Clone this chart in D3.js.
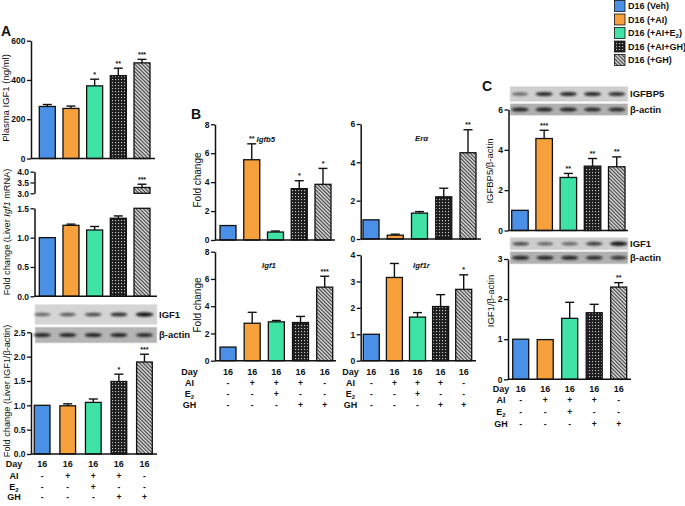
<!DOCTYPE html>
<html><head><meta charset="utf-8">
<script src="https://cdn.jsdelivr.net/npm/d3@7/dist/d3.min.js"></script>
<style>
body{margin:0;background:#fff}
svg{display:block}
text{font-family:'Liberation Sans',Arial,Helvetica,sans-serif;fill:#111}
</style>
</head><body>
<svg id="c" width="685" height="506"></svg>
<script>
// ---------------- DATA ----------------
const groups = ["D16 (Veh)", "D16 (+AI)", "D16 (+AI+E2)", "D16 (+AI+GH)", "D16 (+GH)"];
const legendLabels = [["D16 (Veh)"], ["D16 (+AI)"], ["D16 (+AI+E", "2", ")"], ["D16 (+AI+GH)"], ["D16 (+GH)"]];

// Panel A
const plasmaIGF1 = [265, 255, 370, 422, 487];
const plasmaIGF1Err = [10, 12, 34, 38, 18];
const plasmaIGF1Stars = ["", "", "*", "**", "***"];
const plasmaTicks = [0, 200, 400, 600];

const liverIgf1mRNA = [1.0, 1.21, 1.13, 1.33, 3.27];
const liverIgf1mRNAErr = [0, 0.02, 0.06, 0.04, 0.15];
const liverIgf1mRNAStars = ["", "", "", "", "***"];
const liverLowTicks = [0, 0.5, 1.0, 1.5];
const liverHighTicks = [3.0, 3.5, 4.0];

const liverIGF1Prot = [1.0, 0.99, 1.06, 1.49, 1.89];
const liverIGF1ProtErr = [0, 0.04, 0.07, 0.15, 0.16];
const liverIGF1ProtStars = ["", "", "", "*", "***"];
const liverProtTicks = [0, 0.5, 1.0, 1.5, 2.0, 2.5];

// Panel B
const igfbp5mRNA = [1.0, 5.55, 0.55, 3.55, 3.85];
const igfbp5mRNAErr = [0, 1.1, 0.07, 0.55, 1.1];
const igfbp5mRNAStars = ["", "**", "", "*", "*"];
const eraMRNA = [1.0, 0.2, 1.35, 2.2, 4.5];
const eraMRNAErr = [0, 0.05, 0.08, 0.45, 1.2];
const eraMRNAStars = ["", "", "", "", "**"];
const igf1mRNA = [1.0, 2.75, 2.85, 2.8, 5.4];
const igf1mRNAErr = [0, 0.8, 0.1, 0.45, 0.8];
const igf1mRNAStars = ["", "", "", "", "***"];
const igf1rMRNA = [1.0, 3.15, 1.65, 2.05, 2.7];
const igf1rMRNAErr = [0, 0.53, 0.17, 0.45, 0.55];
const igf1rMRNAStars = ["", "", "", "", "*"];

// Panel C
const igfbp5Prot = [1.0, 4.56, 2.63, 3.19, 3.16];
const igfbp5ProtErr = [0, 0.41, 0.2, 0.38, 0.49];
const igfbp5ProtStars = ["", "***", "**", "**", "**"];
const igf1Prot = [1.0, 0.99, 1.52, 1.66, 2.3];
const igf1ProtErr = [0, 0, 0.4, 0.21, 0.11];
const igf1ProtStars = ["", "", "", "", "**"];

// treatment table
const dayRow = ["16", "16", "16", "16", "16"];
const aiRow = ["-", "+", "+", "+", "-"];
const e2Row = ["-", "-", "+", "-", "-"];
const ghRow = ["-", "-", "-", "+", "+"];

// western blot band intensities (0..1)
const blotA_IGF1 = [0.55, 0.6, 0.7, 0.8, 0.95];
const blotA_actin = [0.85, 0.85, 0.85, 0.85, 0.8];
const blotC_IGFBP5 = [0.55, 0.85, 0.85, 0.85, 0.8];
const blotC_actin1 = [0.85, 0.85, 0.85, 0.8, 0.8];
const blotC_IGF1 = [0.7, 0.55, 0.55, 0.75, 0.95];
const blotC_actin2 = [0.85, 0.85, 0.85, 0.8, 0.75];

// ---------------- SETUP ----------------
const svg = d3.select("#c");
const defs = svg.append("defs");
const pDot = defs.append("pattern").attr("id", "pDot").attr("width", 3).attr("height", 3)
  .attr("patternUnits", "userSpaceOnUse");
pDot.append("rect").attr("width", 3).attr("height", 3).attr("fill", "#1e1e1e");
pDot.append("rect").attr("x", 1).attr("y", 1).attr("width", 1.1).attr("height", 1.1).attr("fill", "#c8c8c8");
const pHatch = defs.append("pattern").attr("id", "pHatch").attr("width", 2.6).attr("height", 2.6)
  .attr("patternUnits", "userSpaceOnUse").attr("patternTransform", "rotate(-45)");
pHatch.append("rect").attr("width", 2.6).attr("height", 2.6).attr("fill", "#dcdcdc");
pHatch.append("rect").attr("width", 1.1).attr("height", 2.6).attr("fill", "#3a3a3a");
const fl = defs.append("filter").attr("id", "blur").attr("x", "-50%").attr("y", "-200%").attr("width", "200%").attr("height", "500%");
fl.append("feGaussianBlur").attr("stdDeviation", 0.9);

const color = d3.scaleOrdinal().domain(groups)
  .range(["#4a90e6", "#f7a13c", "#3fe3a6", "url(#pDot)", "url(#pHatch)"]);

function bandX(x0, x1, w) {
  const step = (x1 - x0 - w) / (groups.length - 1);
  const gap = step - w;
  return d3.scaleBand().domain(groups).range([x0 - gap / 2, x1 + gap / 2])
    .paddingInner(gap / step).paddingOuter(gap / step / 2);
}

function yAxis(g, y, ax, ticks, fmt) {
  const a = g.append("g").attr("transform", `translate(${ax},0)`)
    .call(d3.axisLeft(y).tickValues(ticks).tickFormat(fmt).tickSize(4).tickSizeOuter(0).tickPadding(1.5));
  a.select(".domain").attr("stroke", "#111").attr("stroke-width", 1.5);
  a.selectAll(".tick line").attr("stroke", "#111").attr("stroke-width", 1.3);
  a.selectAll(".tick text").attr("font-size", 8.5).attr("font-weight", "bold")
    .attr("font-family", "'Liberation Sans',Arial,sans-serif").attr("fill", "#111");
  return a;
}

function bars(g, x, y, vals, errs, stars, opts = {}) {
  const top = opts.top !== undefined ? opts.top : Infinity;
  g.selectAll(null).data(groups).join("rect")
    .attr("x", d => x(d)).attr("width", x.bandwidth())
    .attr("y", (d, i) => y(Math.min(vals[i], top)))
    .attr("height", (d, i) => y(0) - y(Math.min(vals[i], top)))
    .attr("fill", d => color(d)).attr("stroke", "#111").attr("stroke-width", 1.3);
  groups.forEach((d, i) => {
    if (vals[i] > top) return; // drawn on the broken upper segment
    const cx = x(d) + x.bandwidth() / 2;
    if (errs[i] > 0) {
      g.append("line").attr("x1", cx).attr("x2", cx).attr("y1", y(vals[i])).attr("y2", y(vals[i] + errs[i]))
        .attr("stroke", "#111").attr("stroke-width", 1.4);
      g.append("line").attr("x1", cx - 4.5).attr("x2", cx + 4.5).attr("y1", y(vals[i] + errs[i])).attr("y2", y(vals[i] + errs[i]))
        .attr("stroke", "#111").attr("stroke-width", 1.4);
    }
    if (stars[i]) {
      g.append("text").attr("x", cx).attr("y", y(vals[i] + errs[i]) - 2.5).attr("text-anchor", "middle")
        .attr("font-size", 7).attr("font-weight", "bold").text(stars[i]);
    }
  });
}

function baseline(g, x1, x2, yv) {
  g.append("line").attr("x1", x1).attr("x2", x2).attr("y1", yv).attr("y2", yv)
    .attr("stroke", "#111").attr("stroke-width", 1.5);
}

function ylabel(g, x, y, parts, size) {
  const t = g.append("text").attr("transform", `translate(${x},${y}) rotate(-90)`)
    .attr("text-anchor", "middle").attr("font-size", size);
  parts.forEach(p => {
    const s = t.append("tspan").text(p[0]);
    if (p[1]) s.attr("font-style", "italic");
  });
}

function table(g, x, rowYs, labelX) {
  const rows = [["Day", dayRow], ["AI", aiRow], ["E", e2Row], ["GH", ghRow]];
  rows.forEach((r, k) => {
    const t = g.append("text").attr("x", labelX).attr("y", rowYs[k] + 3.2).attr("text-anchor", "middle")
      .attr("font-size", 9).attr("font-weight", "bold").text(r[0]);
    if (k === 2) t.append("tspan").attr("font-size", 6).attr("dy", 2).text("2");
    g.selectAll(null).data(groups).join("text")
      .attr("x", d => x(d) + x.bandwidth() / 2).attr("y", rowYs[k] + 3.2)
      .attr("text-anchor", "middle").attr("font-size", k === 0 ? 9 : 8.5).attr("font-weight", "bold")
      .text((d, i) => r[1][i]);
  });
}

function blot(g, x, x0, x1, y0, h, fill, intens, label) {
  g.append("rect").attr("x", x0).attr("y", y0).attr("width", x1 - x0).attr("height", h)
    .attr("fill", fill).attr("stroke", "#e6e6e6").attr("stroke-width", 0.8);
  g.selectAll(null).data(groups).join("ellipse")
    .attr("cx", d => x(d) + x.bandwidth() / 2).attr("cy", y0 + h / 2)
    .attr("rx", (d, i) => 7 + 2 * intens[i]).attr("ry", (d, i) => 1 + 1.2 * intens[i])
    .attr("fill", "#111").attr("opacity", (d, i) => intens[i]).attr("filter", "url(#blur)");
  g.append("text").attr("x", x1 + 2).attr("y", y0 + h / 2 + 3.3).attr("font-size", 9.5)
    .attr("font-weight", "bold").text(label);
}

const G = svg.append("g");

// ---------------- PANEL A ----------------
G.append("text").attr("x", 1).attr("y", 36).attr("font-size", 14).attr("font-weight", "bold").text("A");
{
  const x = bandX(39.3, 150, 16);
  const y = d3.scaleLinear().domain([0, 600]).range([158.5, 40.7]);
  bars(G, x, y, plasmaIGF1, plasmaIGF1Err, plasmaIGF1Stars);
  yAxis(G, y, 31, plasmaTicks, d3.format("d"));
  baseline(G, 31, 155, y(0));
  ylabel(G, 9, 98, [["Plasma IGF1 (ng/ml)"]], 9.5);
}
{
  const x = bandX(39.3, 150, 16);
  const yLo = d3.scaleLinear().domain([0, 1.5]).range([296.3, 208.3]);
  const yHi = d3.scaleLinear().domain([3, 4]).range([193.3, 171.7]);
  bars(G, x, yLo, liverIgf1mRNA, liverIgf1mRNAErr, liverIgf1mRNAStars, { top: 1.5 });
  // upper broken segment: values above the break
  liverIgf1mRNA.forEach((v, i) => {
    if (v <= 3) return;
    const d = groups[i];
    G.append("rect").attr("x", x(d)).attr("width", x.bandwidth())
      .attr("y", yHi(v)).attr("height", yHi(3) - yHi(v))
      .attr("fill", color(d)).attr("stroke", "#111").attr("stroke-width", 1.3);
    const cx = x(d) + x.bandwidth() / 2;
    const e = v + liverIgf1mRNAErr[i];
    G.append("line").attr("x1", cx).attr("x2", cx).attr("y1", yHi(v)).attr("y2", yHi(e)).attr("stroke", "#111").attr("stroke-width", 1.4);
    G.append("line").attr("x1", cx - 4.5).attr("x2", cx + 4.5).attr("y1", yHi(e)).attr("y2", yHi(e)).attr("stroke", "#111").attr("stroke-width", 1.4);
    G.append("text").attr("x", cx).attr("y", yHi(e) - 2.5).attr("text-anchor", "middle").attr("font-size", 7).attr("font-weight", "bold").text(liverIgf1mRNAStars[i]);
  });
  yAxis(G, yLo, 34.5, liverLowTicks, d3.format(".1f"));
  yAxis(G, yHi, 34.5, liverHighTicks, d3.format(".1f"));
  baseline(G, 34.5, 157, yLo(0));
  ylabel(G, 9.5, 232, [["Fold change (Liver "], ["Igf1", true], [" mRNA)"]], 9.2);
}
{
  const x = bandX(34.3, 152.3, 15.7);
  const y = d3.scaleLinear().domain([0, 2.5]).range([454, 332.3]);
  blot(G, x, 35, 157, 304.5, 20, "#d4d4d4", blotA_IGF1, "IGF1");
  blot(G, x, 35, 157, 327, 16, "#b4b4b4", blotA_actin, "β-actin");
  bars(G, x, y, liverIGF1Prot, liverIGF1ProtErr, liverIGF1ProtStars);
  yAxis(G, y, 31, liverProtTicks, d3.format(".1f"));
  baseline(G, 31, 157, y(0));
  ylabel(G, 9.5, 391, [["Fold change (Liver IGF1/β-actin)"]], 9.2);
  table(G, x, [464, 476, 487, 497], 14);
}

// ---------------- PANEL B ----------------
G.append("text").attr("x", 191).attr("y", 119).attr("font-size", 14).attr("font-weight", "bold").text("B");
function titleB(x, y, s) {
  G.append("text").attr("x", x).attr("y", y).attr("text-anchor", "start").attr("font-size", 7.8)
    .attr("font-style", "italic").attr("font-weight", "bold").text(s);
}
{
  const x = bandX(220, 331, 16);
  const y = d3.scaleLinear().domain([0, 8]).range([240, 124.3]);
  bars(G, x, y, igfbp5mRNA, igfbp5mRNAErr, igfbp5mRNAStars);
  yAxis(G, y, 215, [0, 2, 4, 6, 8], d3.format("d"));
  baseline(G, 215, 335, y(0));
  titleB(256.5, 142, "Igfb5");
  ylabel(G, 201, 180, [["Fold change"]], 10);
}
{
  const x = bandX(363, 476, 16);
  const y = d3.scaleLinear().domain([0, 6]).range([239, 124]);
  bars(G, x, y, eraMRNA, eraMRNAErr, eraMRNAStars);
  yAxis(G, y, 360.7, [0, 2, 4, 6], d3.format("d"));
  baseline(G, 360.7, 481, y(0));
  titleB(415, 141, "Erα");
}
{
  const x = bandX(220, 332.7, 16);
  const y = d3.scaleLinear().domain([0, 8]).range([360.7, 251.7]);
  bars(G, x, y, igf1mRNA, igf1mRNAErr, igf1mRNAStars);
  yAxis(G, y, 215, [0, 2, 4, 6, 8], d3.format("d"));
  baseline(G, 215, 336, y(0));
  titleB(262, 268, "Igf1");
  ylabel(G, 201, 305, [["Fold change"]], 10);
  table(G, x, [371.7, 382.7, 394, 405], 189.5);
}
{
  const x = bandX(363.3, 471.7, 16);
  const y = d3.scaleLinear().domain([0, 4]).range([360.7, 255]);
  bars(G, x, y, igf1rMRNA, igf1rMRNAErr, igf1rMRNAStars);
  yAxis(G, y, 360.7, [0, 1, 2, 3, 4], d3.format("d"));
  baseline(G, 360.7, 476, y(0));
  titleB(413, 268, "Igf1r");
  table(G, x, [371.7, 382.7, 394, 405], 350.5);
}

// ---------------- PANEL C ----------------
G.append("text").attr("x", 482).attr("y", 91).attr("font-size", 14).attr("font-weight", "bold").text("C");
{
  const x = bandX(511.7, 625, 16.5);
  const y = d3.scaleLinear().domain([0, 6]).range([230.5, 109.5]);
  blot(G, x, 510, 628, 86.5, 15, "#cfcfcf", blotC_IGFBP5, "IGFBP5");
  blot(G, x, 510, 628, 103.5, 12, "#b0b0b0", blotC_actin1, "β-actin");
  bars(G, x, y, igfbp5Prot, igfbp5ProtErr, igfbp5ProtStars);
  yAxis(G, y, 508.5, [0, 2, 4, 6], d3.format("d"));
  baseline(G, 508.5, 628, y(0));
  ylabel(G, 493, 171, [["IGFBP5/β-actin"]], 9.5);
}
{
  const x = bandX(512.7, 626.7, 16);
  const y = d3.scaleLinear().domain([0, 3]).range([379.3, 259]);
  blot(G, x, 510, 628, 237.5, 12.5, "#cdcdcd", blotC_IGF1, "IGF1");
  blot(G, x, 510, 628, 251.5, 12.5, "#b0b0b0", blotC_actin2, "β-actin");
  bars(G, x, y, igf1Prot, igf1ProtErr, igf1ProtStars);
  yAxis(G, y, 508, [0, 1, 2, 3], d3.format("d"));
  baseline(G, 508, 631, y(0));
  ylabel(G, 494, 301, [["IGF1/β-actin"]], 9.5);
  table(G, x, [389, 400, 411.7, 423.3], 501);
}

// ---------------- LEGEND ----------------
{
  const ly = d3.scaleBand().domain(groups).range([0.5, 65.5]).paddingInner(0.19);
  const lg = G.append("g");
  lg.selectAll(null).data(groups).join("rect")
    .attr("x", 614.5).attr("y", d => ly(d)).attr("width", 10.5).attr("height", ly.bandwidth())
    .attr("fill", d => color(d)).attr("stroke", "#111").attr("stroke-width", 0.8);
  groups.forEach((d, i) => {
    const t = lg.append("text").attr("x", 628).attr("y", ly(d) + ly.bandwidth() / 2 + 3.3)
      .attr("font-size", 9).attr("font-weight", "bold");
    const p = legendLabels[i];
    t.append("tspan").text(p[0]);
    if (p.length > 1) {
      t.append("tspan").attr("font-size", 6).attr("dy", 2).text(p[1]);
      t.append("tspan").attr("dy", -2).text(p[2]);
    }
  });
}
</script>
</body></html>
